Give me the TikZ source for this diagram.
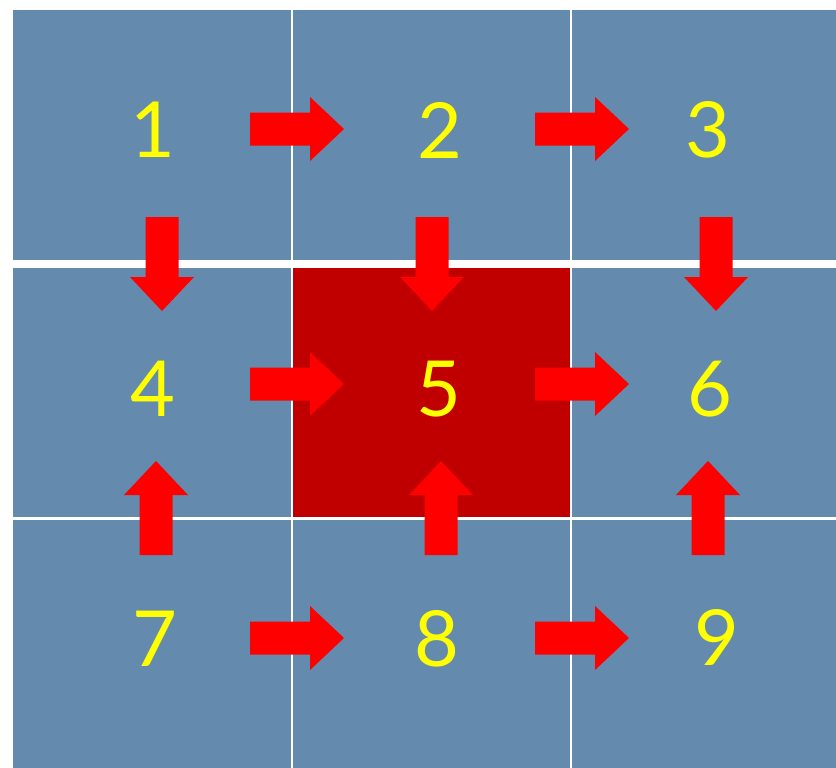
\documentclass[tikz,border=0pt]{standalone}
\usepackage{fontspec}
\setmainfont{Lato}
\definecolor{cellblue}{RGB}{100,138,174}
\definecolor{cellred}{RGB}{192,0,0}
\definecolor{arrowred}{RGB}{255,0,0}
\definecolor{digityellow}{RGB}{255,255,0}

\tikzset{every picture/.style={line width=0.75pt}}
\tikzset{
    blockarrow/.pic={
        \fill[arrowred] (0,-16.5) -- (60,-16.5) -- (60,-32) -- (94,0) -- (60,32) -- (60,16.5) -- (0,16.5) -- cycle ;
    },
    digit/.style={text=digityellow, inner sep=0pt, anchor=center, font=\fontsize{58}{60}\selectfont}
}

\begin{document}
\begin{tikzpicture}[
            x=0.75pt,
            y=0.75pt,
            yscale=-1,
            xscale=1,
            line width=0.75pt
        ]
            \useasboundingbox (0,0) rectangle (836,768);
            \fill[white] (0,0) rectangle (836,768);
            % cells
            \fill[cellblue] (13,10) rectangle (836,768);
            \fill[cellred] (292,264) rectangle (571,519);
            \draw[white, line width=1.9pt] (292,10) -- (292,768);
            \draw[white, line width=1.9pt] (571,10) -- (571,768);
            \draw[white, line width=6pt] (13,264) -- (836,264);
            \draw[white, line width=1.9pt] (13,518.7) -- (836,518.7);

            % arrows, left to right
            \pic at (250,129) {blockarrow};
            \pic at (535,129) {blockarrow};
            \pic at (250,384) {blockarrow};
            \pic at (535,384) {blockarrow};
            \pic at (250,638) {blockarrow};
            \pic at (535,638) {blockarrow};
            % arrows, down
            \pic[rotate=-90] at (162,217) {blockarrow};
            \pic[rotate=-90] at (432,217) {blockarrow};
            \pic[rotate=-90] at (716,217) {blockarrow};
            % arrows, up
            \pic[rotate=90] at (156,555) {blockarrow};
            \pic[rotate=90] at (441,555) {blockarrow};
            \pic[rotate=90] at (708,555) {blockarrow};

            \node[digit] (c1) at (153,130) {1};
            \node[digit] (c2) at (440,130) {2};
            \node[digit] (c3) at (708,130) {3};
            \node[digit] (c4) at (153,389) {4};
            \node[digit] (c5) at (439,389) {5};
            \node[digit] (c6) at (710,389) {6};
            \node[digit] (c7) at (155,639) {7};
            \node[digit] (c8) at (437,639) {8};
            \node[digit] (c9) at (717,637) {9};
        \end{tikzpicture}
\end{document}
